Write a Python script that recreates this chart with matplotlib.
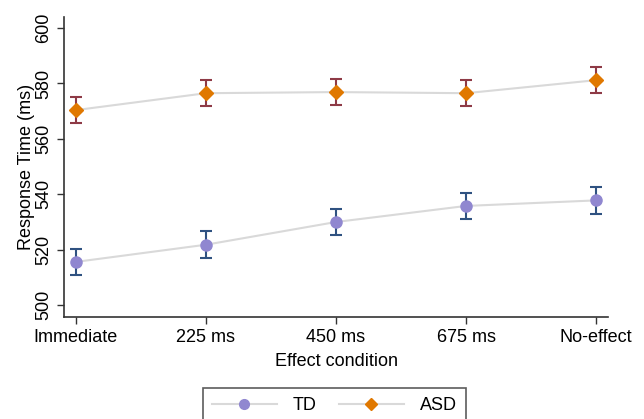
import numpy as np
import matplotlib.pyplot as plt

plt.rcParams['font.family'] = ['Liberation Sans', 'DejaVu Sans']

conditions = ['Immediate', '225 ms', '450 ms', '675 ms', 'No-effect']
td_mean = [515.6, 521.8, 530.0, 535.8, 537.8]
td_err = [4.8, 4.8, 4.8, 4.8, 4.8]
asd_mean = [570.4, 576.5, 576.9, 576.5, 581.2]
asd_err = [4.8, 4.8, 4.8, 4.8, 4.8]
y_ticks = [500, 520, 540, 560, 580, 600]

fig = plt.figure(figsize=(6.44, 4.19), dpi=100)
ax = fig.add_axes([0.0994, 0.2434, 0.8447, 0.716])
x = np.arange(len(conditions))

line_col = '#d9d9d9'
ax.plot(x, td_mean, '-', color=line_col, lw=1.5, zorder=1)
ax.plot(x, asd_mean, '-', color=line_col, lw=1.5, zorder=1)
ax.errorbar(x, td_mean, yerr=td_err, fmt='none', ecolor='#2f5281',
            elinewidth=1.5, capsize=4.5, capthick=1.5, zorder=2)
ax.errorbar(x, asd_mean, yerr=asd_err, fmt='none', ecolor='#8e3a46',
            elinewidth=1.5, capsize=4.5, capthick=1.5, zorder=2)
ax.plot(x, td_mean, 'o', color='#9087d0', ms=8, zorder=3)
ax.plot(x, asd_mean, 'D', color='#e07800', ms=7.5, zorder=3)

ax.set_xlim(-0.092, 4.092)
ax.set_ylim(495.7, 604)
ax.set_xticks(x)
ax.set_xticklabels(conditions)
ax.set_yticks(y_ticks)
ax.set_yticklabels([str(v) for v in y_ticks], rotation=90, va='center')
ax.tick_params(labelsize=13, length=5, width=1, color='#333333', labelcolor='black')
ax.set_xlabel('Effect condition', fontsize=13, labelpad=5)
ax.set_ylabel('Response Time (ms)', fontsize=13, labelpad=0)
for s in ['top', 'right']:
    ax.spines[s].set_visible(False)
for s in ['left', 'bottom']:
    ax.spines[s].set_color('#333333')
    ax.spines[s].set_linewidth(1.2)

h1, = ax.plot([], [], '-o', color=line_col, mfc='#9087d0', mec='#9087d0', ms=7, lw=1.5)
h2, = ax.plot([], [], '-D', color=line_col, mfc='#e07800', mec='#e07800', ms=6.5, lw=1.5)
leg = fig.legend([h1, h2], ['TD', 'ASD'], loc='upper center',
                 bbox_to_anchor=(0.519, 0.074), ncol=2, fontsize=13,
                 frameon=True, fancybox=False, edgecolor='#333333',
                 handlelength=3.6, handletextpad=0.9, columnspacing=1.2,
                 borderpad=0.5, borderaxespad=0)
leg.get_frame().set_linewidth(1.2)

fig.savefig('out.png', dpi=100)
